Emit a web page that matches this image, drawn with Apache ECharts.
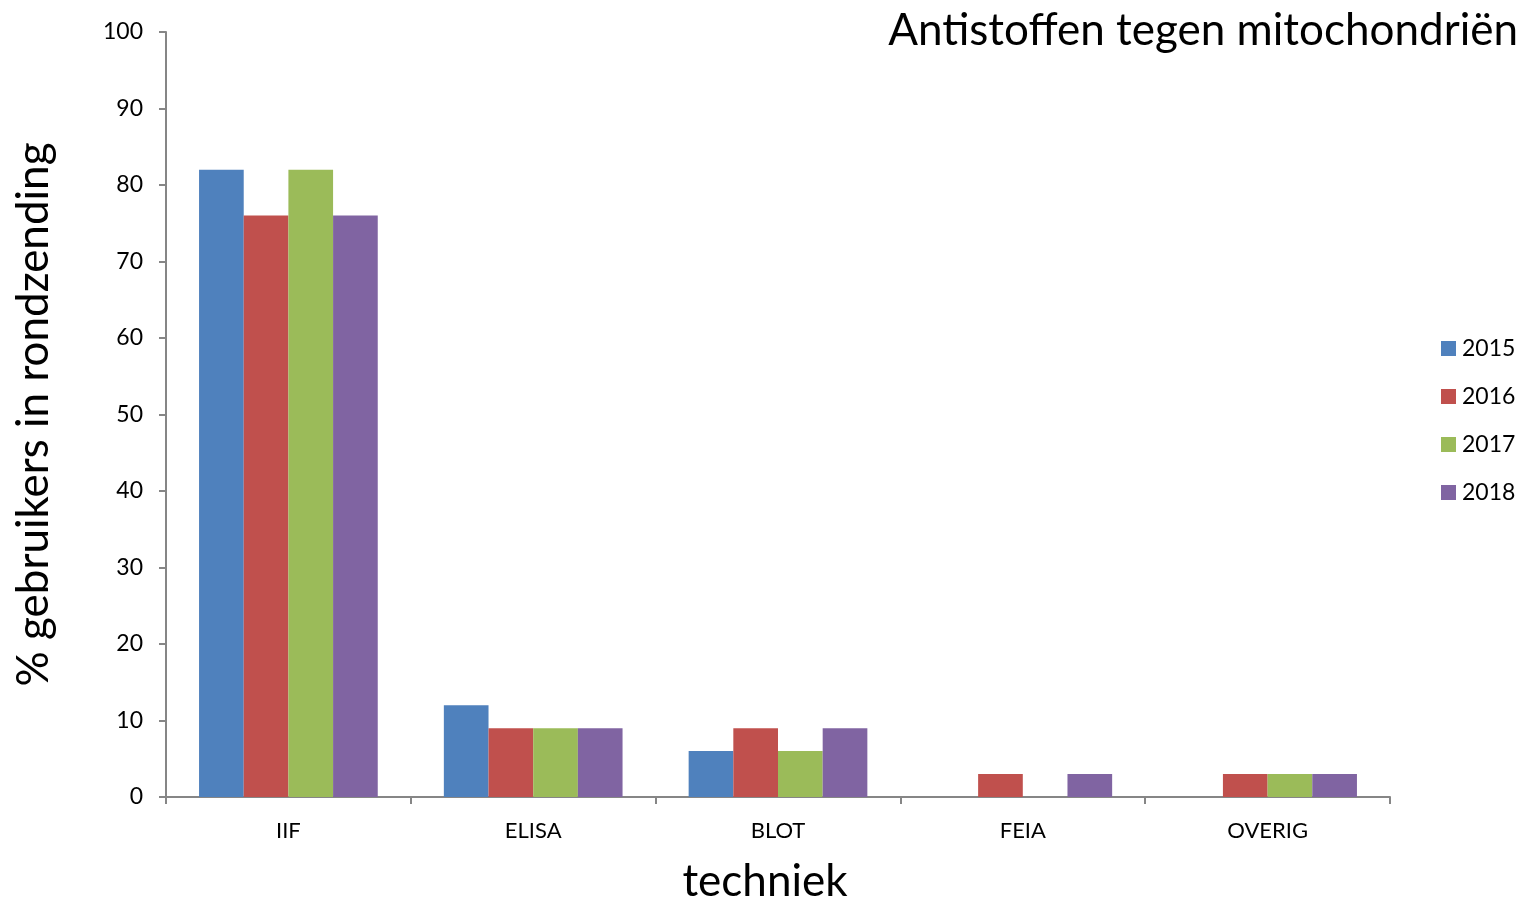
<!DOCTYPE html>
<html>
<head>
<meta charset="utf-8">
<script src="https://cdn.jsdelivr.net/npm/echarts@6/dist/echarts.min.js"></script>
<style>
  html, body { margin: 0; padding: 0; background: #fff; }
  #chart { width: 1535px; height: 902px; }
</style>
</head>
<body>
<div id="chart"></div>
<script>
const categories = ['IIF', 'ELISA', 'BLOT', 'FEIA', 'OVERIG']
const years = ['2015', '2016', '2017', '2018']
const v2015 = [82, 12, 6, 0, 0]
const v2016 = [76, 9, 9, 3, 3]
const v2017 = [82, 9, 6, 0, 3]
const v2018 = [76, 9, 9, 3, 3]
const colors = ['#4f81bd', '#c0504d', '#9bbb59', '#8064a2']

const seriesValues = [v2015, v2016, v2017, v2018]
const font = 'Lato, "Open Sans", sans-serif'
const axisGrey = '#868686'

const chart = echarts.init(document.getElementById('chart'))

const option = {
  backgroundColor: '#fff',
  animation: false,
  textStyle: { fontFamily: font },
  title: {
    text: 'Antistoffen tegen mitochondriën',
    right: 12,
    top: 4,
    textStyle: { fontFamily: font, fontSize: 44, fontWeight: 'normal', color: '#000' }
  },
  legend: {
    orient: 'vertical',
    left: 1436,
    top: 332,
    itemWidth: 15,
    itemHeight: 15,
    itemGap: 25,
    icon: 'rect',
    data: years,
    textStyle: { fontFamily: font, fontSize: 23, color: '#000', padding: [0, 0, 0, 1] }
  },
  grid: { left: 166, right: 145, top: 32, bottom: 105, outerBoundsMode: 'none' },
  xAxis: {
    type: 'category',
    data: categories,
    name: 'techniek',
    nameLocation: 'middle',
    nameGap: 63,
    nameTextStyle: { fontFamily: font, fontSize: 44, color: '#000', padding: [0, 26, 0, 0] },
    axisLine: { lineStyle: { color: axisGrey, width: 2 } },
    axisTick: { show: true, length: 7, lineStyle: { color: axisGrey, width: 2 } },
    axisLabel: { fontFamily: font, fontSize: 22, color: '#000', margin: 23 }
  },
  yAxis: {
    type: 'value',
    min: 0,
    max: 100,
    interval: 10,
    name: '% gebruikers in rondzending',
    nameLocation: 'middle',
    nameGap: 110,
    nameTextStyle: { fontFamily: font, fontSize: 44, color: '#000' },
    axisLine: { show: true, lineStyle: { color: axisGrey, width: 2 } },
    axisTick: { show: true, length: 7, lineStyle: { color: axisGrey, width: 2 } },
    splitLine: { show: false },
    axisLabel: { fontFamily: font, fontSize: 23, color: '#000', margin: 23 }
  },
  series: years.map((y, i) => ({
    name: y,
    type: 'bar',
    data: seriesValues[i],
    barGap: '0%',
    barCategoryGap: '27%',
    itemStyle: { color: colors[i] }
  }))
}

chart.setOption(option)
</script>
</body>
</html>
